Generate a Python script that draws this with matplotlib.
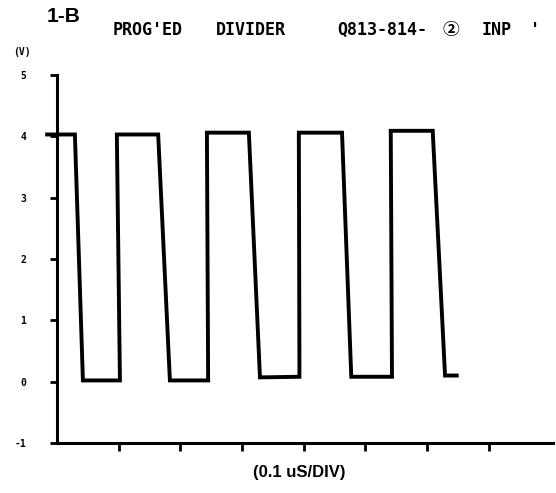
import matplotlib
matplotlib.use('Agg')
import matplotlib.pyplot as plt

# waveform (time in divisions, volts)
t = [-0.16, 0.29, 0.42, 1.02, 0.97, 1.64, 1.83, 2.45, 2.43, 3.11,
     3.29, 3.93, 3.92, 4.62, 4.77, 5.43, 5.41, 6.09, 6.29, 6.48]
v = [4.03, 4.03, 0.02, 0.02, 4.03, 4.03, 0.02, 0.02, 4.06, 4.06,
     0.07, 0.08, 4.06, 4.06, 0.08, 0.08, 4.09, 4.09, 0.10, 0.10]

y_ticks = [5, 4, 3, 2, 1, 0, -1]
y_labels = ['5', '4', '3', '2', '1', '0', '-1']
x_ticks = [1, 2, 3, 4, 5, 6, 7]

# title words and their centres (figure pixels)
title_words = ["PROG'ED", "DIVIDER", "Q813-814-", "\u2461", "INP", "'"]
title_x = [148, 251, 382, 451, 497, 535]

W, H = 556, 493
fig = plt.figure(figsize=(W / 100, H / 100), dpi=100)
ax = fig.add_axes([57 / W, 50 / H, 496 / W, 368 / H])

ax.plot(t, v, color='black', lw=2.8, solid_joinstyle='miter', clip_on=False)

ax.set_xlim(0, 8.04)
ax.set_ylim(-1, 5)
ax.set_yticks(y_ticks)
ax.set_yticklabels(y_labels, fontsize=7, fontweight='bold', family='DejaVu Sans Mono')
ax.set_xticks(x_ticks)
ax.set_xticklabels([])
ax.tick_params(axis='y', direction='out', length=5, width=2, pad=17)
ax.tick_params(axis='x', direction='out', length=6, width=2)
for s in ['top', 'right']:
    ax.spines[s].set_visible(False)
for s in ['left', 'bottom']:
    ax.spines[s].set_linewidth(2.2)

fig.text(47 / W, 1 - 17 / H, '1-B', fontsize=15, fontweight='bold',
         family='Liberation Sans', va='center', ha='left')
for word, x in zip(title_words, title_x):
    fig.text(x / W, 1 - 30 / H, word, fontsize=12, fontweight='bold',
             family=['DejaVu Sans Mono', 'Noto Sans CJK JP'], va='center', ha='center')
fig.text(22 / W, 1 - 52 / H, '(V)', fontsize=7, fontweight='bold',
         family='DejaVu Sans Mono', va='center', ha='center')
fig.text(299 / W, 1 - 472 / H, '(0.1 uS/DIV)', fontsize=12, fontweight='bold',
         family='Liberation Sans', va='center', ha='center')

fig.savefig('out.png', dpi=100)
